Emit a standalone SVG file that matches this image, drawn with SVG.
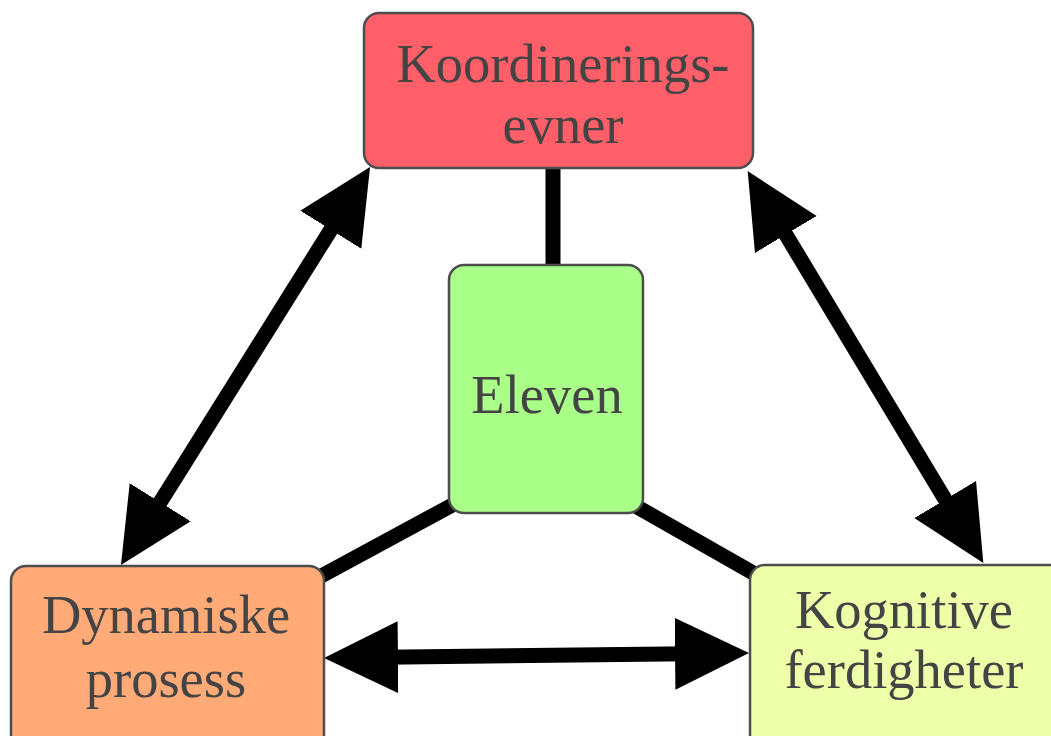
<svg xmlns="http://www.w3.org/2000/svg" width="1051" height="736" viewBox="0 0 1051 736">
<style>
.box{stroke:#4d4d4d;stroke-width:2.5}
.lbl{font-family:"Liberation Serif","DejaVu Serif",serif;font-size:54.5px;fill:#444444;text-anchor:middle}
.con{stroke:#000;stroke-width:15;fill:none}
</style>
<defs>
<marker id="ah" viewBox="0 -37 74 74" markerWidth="74" markerHeight="74" refX="14" refY="0" markerUnits="userSpaceOnUse" orient="auto-start-reverse">
<path d="M0,-36 L74,0 L0,36 Z" fill="#000"/>
</marker>
</defs>
<rect width="1051" height="736" fill="#fff"/>
<g id="connectors">
<line class="con" x1="553" y1="160" x2="553" y2="275"/>
<line class="con" x1="458" y1="502" x2="312" y2="581"/>
<line class="con" x1="632" y1="504" x2="762" y2="578"/>
<line class="con" x1="338.2" y1="217.9" x2="152.8" y2="514.1" marker-start="url(#ah)" marker-end="url(#ah)"/>
<line class="con" x1="778.6" y1="222.5" x2="952.4" y2="511.5" marker-start="url(#ah)" marker-end="url(#ah)"/>
<line class="con" x1="384" y1="657.3" x2="689" y2="653.7" marker-start="url(#ah)" marker-end="url(#ah)"/>
</g>
<g id="node-koordinering">
<rect class="box" x="364" y="13" width="389" height="155" rx="15" fill="#ff5f68"/>
<text class="lbl" x="563" y="82">Koordinerings-</text>
<text class="lbl" x="563" y="143">evner</text>
</g>
<g id="node-eleven">
<rect class="box" x="449" y="265" width="194" height="248" rx="15" fill="#aaff88"/>
<text class="lbl" x="547" y="413">Eleven</text>
</g>
<g id="node-dynamiske">
<rect class="box" x="11" y="566" width="313" height="190" rx="15" fill="#ffaa77"/>
<text class="lbl" x="166" y="633">Dynamiske</text>
<text class="lbl" x="166" y="697">prosess</text>
</g>
<g id="node-kognitive">
<rect class="box" x="750" y="565" width="320" height="190" rx="15" fill="#eeffaa"/>
<text class="lbl" x="904" y="628">Kognitive</text>
<text class="lbl" x="904" y="688">ferdigheter</text>
</g>
</svg>
